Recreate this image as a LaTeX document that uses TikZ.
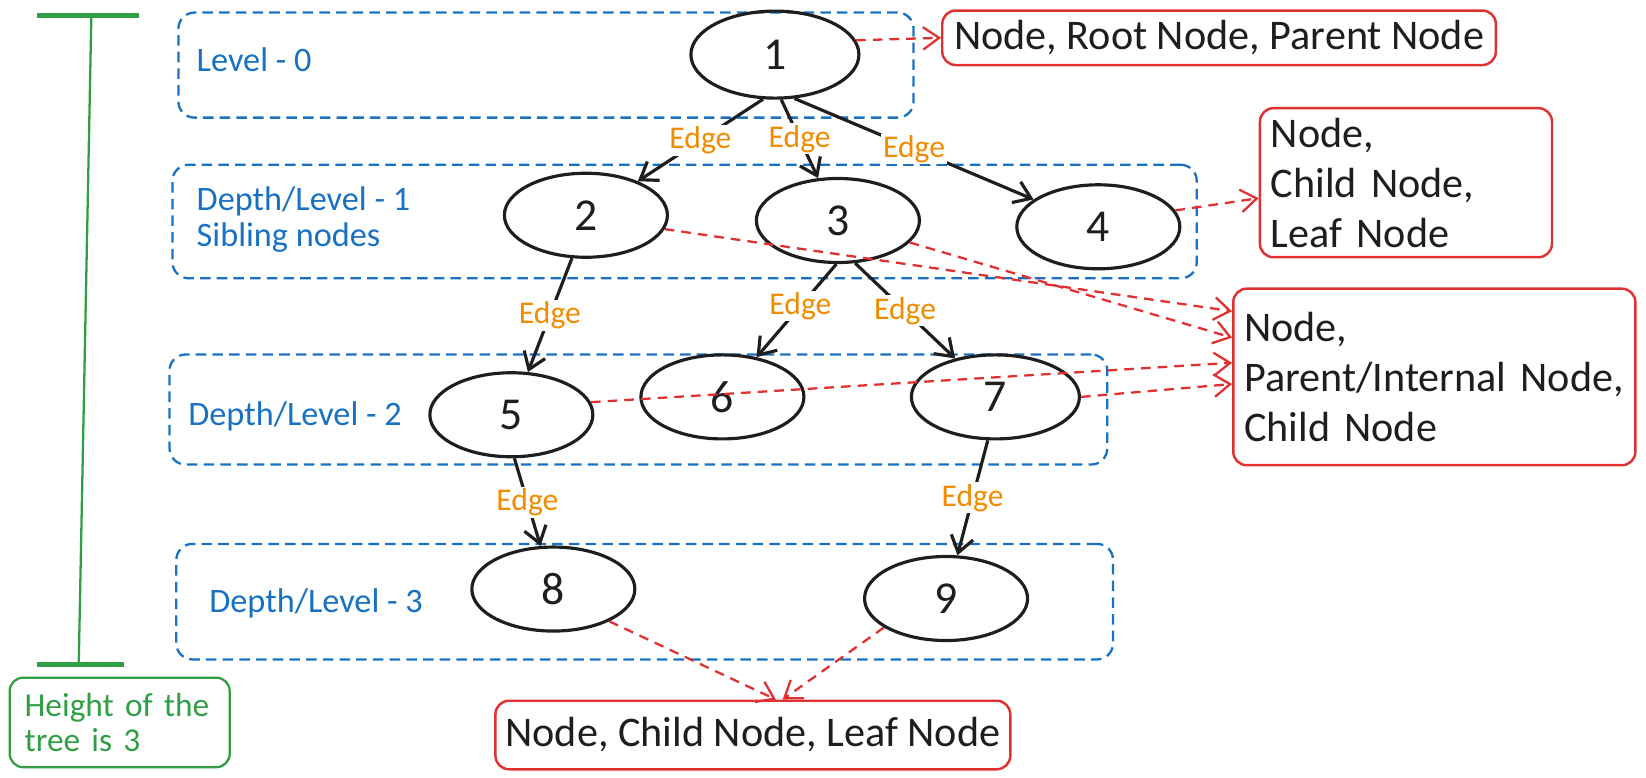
\documentclass[tikz,border=0pt]{standalone}
\usepackage{fontspec}
\setmainfont{Carlito}
\usepackage{tikz}
\usetikzlibrary{positioning,shapes.geometric,arrows.meta}
\definecolor{lvblue}{HTML}{1971C2}
\definecolor{tagred}{HTML}{E03131}
\definecolor{hgreen}{HTML}{2F9E44}
\definecolor{edgeorange}{HTML}{F08C00}
\definecolor{ink}{HTML}{1E1E1E}

\begin{document}
\begin{tikzpicture}[x=0.021cm, y=-0.021cm,
	tnode/.style={ellipse, draw=ink, line width=1.8pt, minimum width=3.26cm, minimum height=1.68cm, text=ink, font=\fontsize{26}{30}\selectfont},
	level/.style={draw=lvblue, line width=1.3pt, dash pattern=on 6pt off 3.5pt, rounded corners=0.32cm},
	lvtext/.style={text=lvblue, inner sep=0pt, anchor=west, align=left, font=\fontsize{19.5}{20.5}\selectfont},
	tagbox/.style={draw=tagred, line width=1.4pt, rounded corners=0.27cm, inner xsep=0.2cm, align=left, text=ink, font=\fontsize{24}{28.5}\selectfont},
	tedge/.style={draw=ink, line width=1.8pt, -{Straight Barb[length=0.32cm,width=0.45cm]}},
	elabel/.style={fill=white, inner sep=1pt, text=edgeorange, font=\fontsize{18}{19}\selectfont},
	tagarrow/.style={draw=tagred, line width=1.3pt, dash pattern=on 5.5pt off 4pt, -{Straight Barb[length=0.32cm,width=0.45cm]}}]
	\useasboundingbox (0,0) rectangle (1567.6,740);
	%% levels
	\node[level, minimum width=14.7cm, minimum height=2.1cm] (l0) at (520,62) {};
	\node[level, minimum width=20.48cm, minimum height=2.27cm] (l1) at (652,211) {};
	\node[level, minimum width=18.75cm, minimum height=2.2cm] (l2) at (608,390) {};
	\node[level, minimum width=18.73cm, minimum height=2.31cm] (l3) at (614,573) {};
	\node[lvtext] (t0) at (187,57) {Level - 0};
	\node[lvtext] (t1) at (187,209) {Depth/Level - 1\\Sibling nodes};
	\node[lvtext] (t2) at (179,397) {Depth/Level - 2};
	\node[lvtext] (t3) at (199,575) {Depth/Level - 3};
	%% tree
	\node[tnode, minimum width=3.36cm, minimum height=1.74cm] (n1) at (738,52) {1};
	\node[tnode] (n2) at (558,205) {2};
	\node[tnode] (n3) at (798,210) {3};
	\node[tnode] (n4) at (1046,216) {4};
	\node[tnode] (n5) at (487,395) {5};
	\node[tnode] (n6) at (688,378) {6};
	\node[tnode, minimum width=3.36cm] (n7) at (948,378) {7};
	\node[tnode] (n8) at (527,561) {8};
	\node[tnode] (n9) at (901,570) {9};
	% edges
	\draw[tedge] (n1.-105) -- node[elabel]{Edge} (n2);
	\draw[tedge] (n1.-82) -- node[elabel]{Edge} (n3);
	\draw[tedge] (n1.-66) -- node[elabel]{Edge} (n4);
	\draw[tedge] (n2.-108) -- node[elabel]{Edge} (n5);
	\draw[tedge] (n3.-92) -- node[elabel, pos=0.45]{Edge} (n6);
	\draw[tedge] (n3.-68) -- node[elabel]{Edge} (n7);
	\draw[tedge] (n5.-86) -- node[elabel]{Edge} (n8);
	\draw[tedge] (n7.-100) -- node[elabel]{Edge} (n9);
	%% tags
	\node[tagbox, minimum width=11.07cm, minimum height=1.09cm, align=center] (b1) at (1161,36) {Node, Root Node, Parent Node};
	\node[tagbox, minimum width=5.84cm, minimum height=2.98cm, text width=5.4cm] (b2) at (1339,174) {Node,\\Child Node,\\Leaf Node};
	\node[tagbox, minimum width=8.04cm, minimum height=3.53cm, text width=7.6cm] (b3) at (1366,359) {Node,\\Parent/Internal Node,\\Child Node};
	\node[tagbox, minimum width=10.1cm, minimum height=1.37cm, align=center] (b4) at (717,700) {Node, Child Node, Leaf Node};
	\draw[tagarrow] (n1.10) -- (b1.west);
	\draw[tagarrow] (n4.12) -- (b2.186);
	\draw[tagarrow] (n2.-10) -- (b3.162);
	\draw[tagarrow] (n3.-17) -- (b3.169);
	\draw[tagarrow] (n5.9) -- (b3.176);
	\draw[tagarrow] (n7.east) -- (b3.182);
	\draw[tagarrow] (n8.-30) -- (b4.57);
	\draw[tagarrow] (n9.205) -- (b4.50);
	%% height
	\coordinate (gt) at (87,15);
	\coordinate (gb) at (75,632);
	\draw[hgreen, line width=1.3pt] (gt) -- (gb);
	\draw[hgreen, line width=3pt] (35,15) -- (132,15);
	\draw[hgreen, line width=3pt] (35,633) -- (118,633);
	\node[draw=hgreen, line width=1.3pt, rounded corners=0.27cm, minimum width=4.37cm, minimum height=1.79cm, inner xsep=0.3cm, text width=3.8cm, align=left, text=hgreen, font=\fontsize{19}{20}\selectfont] (h) at (114,688) {Height of the\\tree is 3};
\end{tikzpicture}
\end{document}
